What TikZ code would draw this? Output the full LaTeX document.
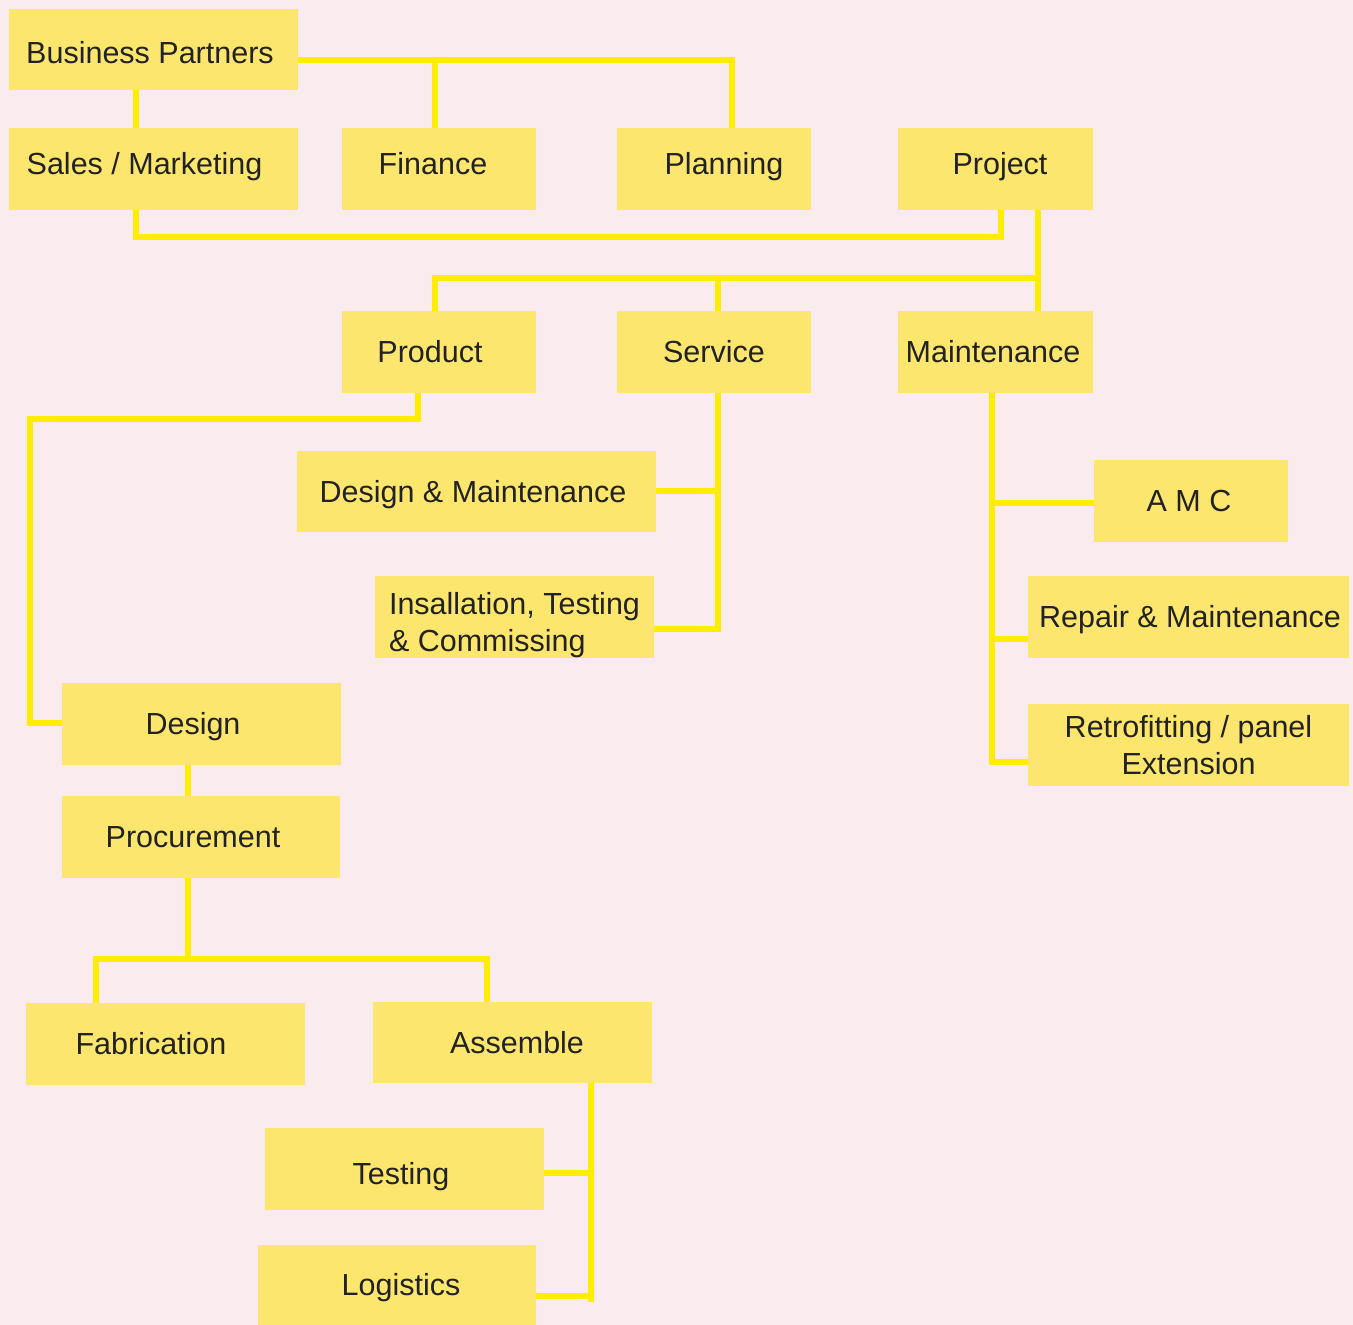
\documentclass[tikz,border=0pt]{standalone}
\usepackage{fontspec}
\setmainfont{Liberation Sans}
\definecolor{bgpink}{RGB}{250,235,238}
\definecolor{boxfill}{RGB}{253,230,110}
\definecolor{connyellow}{RGB}{255,237,0}
\definecolor{txtdark}{RGB}{34,34,34}
\tikzset{
  box/.style={rectangle, fill=boxfill, draw=none, inner sep=0pt, text=txtdark,
    font=\fontsize{30.5}{37}\selectfont},
  one/.style={text height=21.5pt, text depth=0pt},
  conn/.style={draw=connyellow, line width=6pt, line join=miter, line cap=butt},
}
\begin{document}
\begin{tikzpicture}[x=1pt,y=-1pt]
\fill[bgpink] (0,0) rectangle (1353,1325);
\useasboundingbox (0,0) rectangle (1353,1325);

% boxes
\node[box,one,minimum width=289pt,minimum height=81pt] (bp) at (153.5,49.5) {\raisebox{-3pt}{Business Partners}\hspace*{7pt}};
\node[box,one,minimum width=289pt,minimum height=82pt] (sm) at (153.5,169) {\raisebox{5pt}{Sales / Marketing}\hspace*{18pt}};
\node[box,one,minimum width=194pt,minimum height=82pt] (fin) at (439,169) {\raisebox{5pt}{Finance}\hspace*{12pt}};
\node[box,one,minimum width=194pt,minimum height=82pt] (plan) at (714,169) {\hspace*{20pt}\raisebox{5pt}{Planning}};
\node[box,one,minimum width=195pt,minimum height=82pt] (proj) at (995.5,169) {\hspace*{9pt}\raisebox{5pt}{Project}};
\node[box,one,minimum width=194pt,minimum height=82pt] (prod) at (439,352) {Product\hspace*{18pt}};
\node[box,one,minimum width=194pt,minimum height=82pt] (serv) at (714,352) {Service};
\node[box,one,minimum width=195pt,minimum height=82pt] (maint) at (995.5,352) {Maintenance\hspace*{5pt}};
\node[box,one,minimum width=359pt,minimum height=81pt] (dm) at (476.5,491.5) {Design \& Maintenance\hspace*{7pt}};
\node[box,align=left,minimum width=279pt,minimum height=82pt] (inst) at (514.5,617) {\rule{0pt}{38pt}Insallation, Testing\\\& Commissing};
\node[box,one,minimum width=194pt,minimum height=82pt] (amc) at (1191,501) {A M C\hspace*{4pt}};
\node[box,one,minimum width=321pt,minimum height=82pt] (rm) at (1188.5,617) {\hspace*{3pt}Repair \& Maintenance};
\node[box,align=center,minimum width=321pt,minimum height=82pt] (retro) at (1188.5,745) {Retrofitting / panel\\Extension};
\node[box,one,minimum width=279pt,minimum height=82pt] (des) at (201.5,724) {Design\hspace*{17pt}};
\node[box,one,minimum width=278pt,minimum height=82pt] (proc) at (201,837) {Procurement\hspace*{16pt}};
\node[box,one,minimum width=279pt,minimum height=82pt] (fab) at (165.5,1044) {Fabrication\hspace*{29pt}};
\node[box,one,minimum width=279pt,minimum height=81pt] (asm) at (512.5,1042.5) {\hspace*{9pt}Assemble};
\node[box,one,minimum width=279pt,minimum height=82pt] (test) at (404.5,1169) {\raisebox{-5pt}{Testing}\hspace*{7pt}};
\node[box,one,minimum width=278pt,minimum height=80pt] (log) at (397,1285) {\hspace*{8pt}Logistics};

% junction coordinates
\coordinate (jfin) at (435,60);
\coordinate (jserv) at (718,278);
\coordinate (jdm) at (718,491);
\coordinate (jamc) at (992,503);
\coordinate (jrm) at (992,639);
\coordinate (jtest) at (591,1173);

% connectors
\draw[conn] (bp.east |- 0,60) -- (732,60) -- (732,0 |- plan.north);
\draw[conn] (jfin) -- (435,0 |- fin.north);
\draw[conn] (136,0 |- bp.south) -- (136,0 |- sm.north);
\draw[conn] (136,0 |- sm.south) -- (136,237) -- (1001,237) -- (1001,0 |- proj.south);
\draw[conn] (1038,0 |- proj.south) -- (1038,0 |- maint.north);
\draw[conn] (1038,278) -- (435,278) -- (435,0 |- prod.north);
\draw[conn] (jserv) -- (718,0 |- serv.north);
\draw[conn] (418,0 |- prod.south) -- (418,419) -- (30,419) -- (30,723) -- (des.west |- 0,723);
\draw[conn] (718,0 |- serv.south) -- (718,629) -- (inst.east |- 0,629);
\draw[conn] (jdm) -- (dm.east |- 0,491);
\draw[conn] (992,0 |- maint.south) -- (992,762) -- (retro.west |- 0,762);
\draw[conn] (jamc) -- (amc.west |- 0,503);
\draw[conn] (jrm) -- (rm.west |- 0,639);
\draw[conn] (188,0 |- des.south) -- (188,0 |- proc.north);
\draw[conn] (188,0 |- proc.south) -- (188,959);
\draw[conn] (95.5,0 |- fab.north) -- (95.5,959) -- (487,959) -- (487,0 |- asm.north);
\draw[conn] (591,0 |- asm.south) -- (591,1302);
\draw[conn] (jtest) -- (test.east |- 0,1173);
\draw[conn] (591,1296) -- (log.east |- 0,1296);
\end{tikzpicture}
\end{document}
